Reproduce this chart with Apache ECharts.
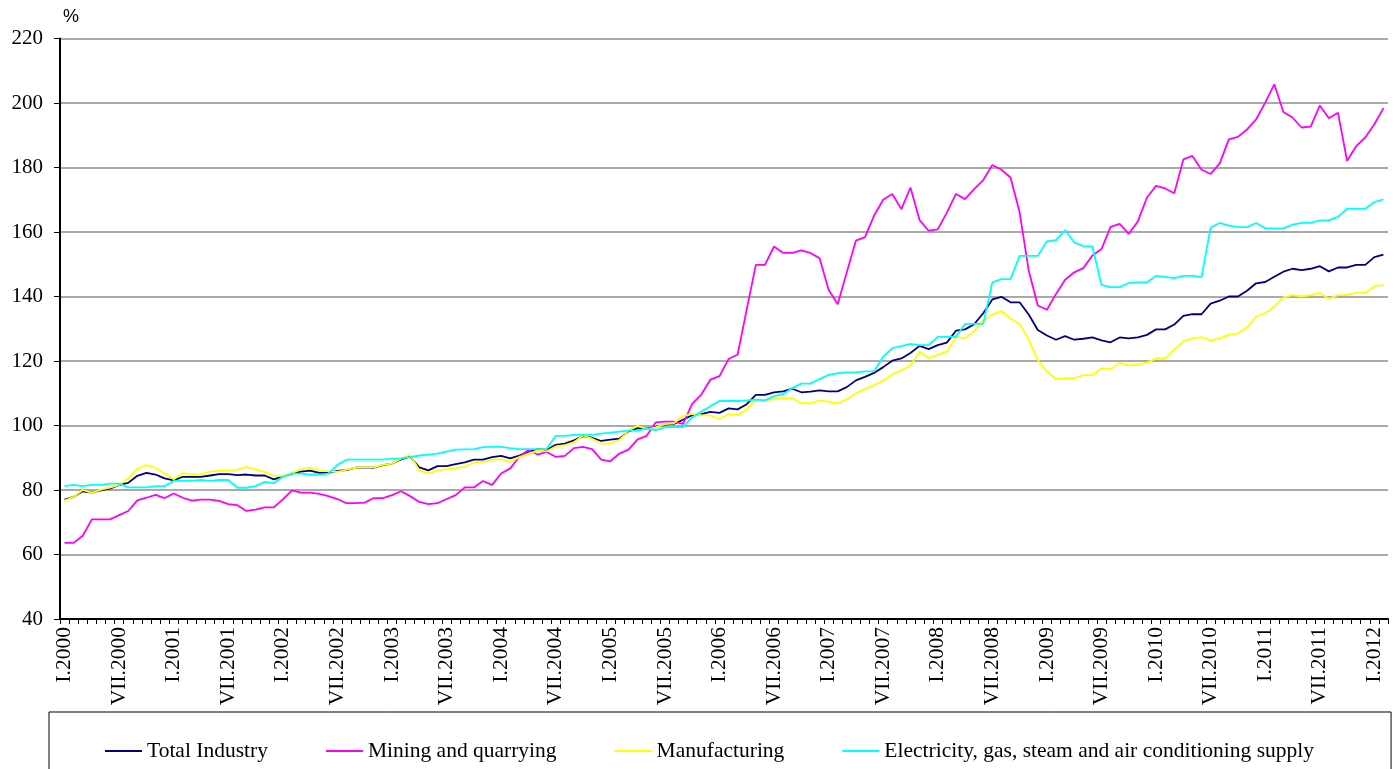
<!DOCTYPE html>
<html>
<head>
<meta charset="utf-8">
<script src="https://cdn.jsdelivr.net/npm/echarts@6/dist/echarts.min.js"></script>
<style>
html,body{margin:0;padding:0;background:#fff;}
#chart{width:1398px;height:769px;}
</style>
</head>
<body>
<div id="chart"></div>
<script>
const monthNames = ['I','II','III','IV','V','VI','VII','VIII','IX','X','XI','XII'];
const years = [2000,2001,2002,2003,2004,2005,2006,2007,2008,2009,2010,2011,2012];
const seriesNames = ['Total Industry','Mining and quarrying','Manufacturing','Electricity, gas, steam and air conditioning supply'];
const yTicks = [40,60,80,100,120,140,160,180,200,220];

// Monthly values, I.2000 .. II.2012 (146 months)
const totalIndustry = [77.0,77.9,79.6,79.2,79.9,80.4,81.6,82.2,84.4,85.3,
84.8,83.6,83.0,84.1,84.1,84.1,84.5,84.9,84.9,84.6,
84.8,84.5,84.5,83.3,84.2,85.1,85.7,86.0,85.3,85.3,
85.9,86.2,86.9,87.0,86.9,87.7,88.2,89.5,90.4,87.0,
86.1,87.4,87.4,88.0,88.6,89.4,89.4,90.2,90.6,89.8,
90.7,91.9,92.7,92.4,94.0,94.4,95.4,96.7,96.2,95.2,
95.6,95.9,98.2,99.2,99.0,99.6,100.3,100.5,101.8,103.2,
103.5,104.2,103.9,105.3,105.0,106.6,109.5,109.5,110.3,110.6,
111.4,110.3,110.5,110.9,110.6,110.6,111.9,114.0,115.1,116.3,
118.1,120.1,120.8,122.5,124.7,123.7,124.9,125.7,129.4,129.8,
131.4,134.8,139.1,139.9,138.2,138.2,134.4,129.6,127.9,126.6,
127.7,126.6,126.9,127.3,126.4,125.8,127.3,127.0,127.3,128.1,
129.8,129.8,131.3,134.0,134.5,134.5,137.8,138.7,140.0,140.0,
141.8,144.1,144.5,146.1,147.7,148.6,148.2,148.6,149.4,147.8,
149.0,149.0,149.8,149.8,152.2,153.0];

const mining = [63.6,63.6,65.8,70.9,70.9,70.9,72.2,73.5,76.8,77.6,
78.5,77.5,78.9,77.6,76.7,77.0,77.0,76.6,75.6,75.3,
73.5,73.9,74.6,74.6,77.1,79.9,79.2,79.2,78.8,78.1,
77.2,75.9,75.9,76.1,77.5,77.5,78.4,79.6,78.1,76.3,
75.6,75.9,77.2,78.4,80.8,80.8,82.8,81.6,85.1,86.7,
90.3,92.4,91.0,91.8,90.3,90.6,93.0,93.4,92.7,89.4,
88.9,91.3,92.5,95.7,96.8,101.0,101.2,101.2,100.5,106.7,
109.6,114.2,115.3,120.6,122.0,136.0,149.8,149.8,155.5,153.5,
153.5,154.3,153.5,151.9,142.1,137.6,147.5,157.3,158.4,165.1,
170.0,171.8,167.1,173.8,163.7,160.4,160.8,166.0,171.8,170.2,
173.3,176.1,180.8,179.3,176.9,166.1,148.0,137.2,135.9,140.8,
145.2,147.5,148.8,152.7,154.7,161.6,162.5,159.4,163.3,170.7,
174.3,173.5,172.0,182.5,183.6,179.3,178.0,181.3,188.7,189.5,
191.8,194.9,200.1,205.8,197.2,195.5,192.4,192.7,199.2,195.3,
197.0,182.1,186.6,189.3,193.4,198.4];

const manufacturing = [76.7,77.9,80.0,79.1,80.1,80.7,81.6,83.6,86.6,87.7,
86.9,85.1,83.3,85.2,84.8,84.9,85.7,86.0,86.0,86.3,
87.2,86.4,85.6,84.4,84.4,85.3,86.4,86.9,86.1,85.8,
85.6,86.3,86.9,87.1,87.0,87.8,88.2,89.7,90.9,86.1,
85.1,86.1,86.5,86.8,87.2,88.6,88.7,89.4,89.6,88.7,
90.2,91.0,92.3,92.0,93.5,93.9,94.8,96.9,95.9,94.4,
94.5,95.5,98.5,99.9,98.9,99.4,100.4,100.7,103.0,103.6,
103.2,103.1,102.1,103.4,103.2,105.0,108.0,107.8,108.2,108.5,
108.5,106.9,106.9,107.7,107.4,106.9,108.1,110.0,111.3,112.5,
113.9,115.9,117.1,118.6,122.9,120.9,121.9,122.9,127.4,127.1,
129.2,132.7,134.4,135.5,133.1,131.5,126.6,120.3,116.7,114.4,
114.7,114.7,115.6,115.6,117.8,117.5,119.5,118.6,118.9,119.5,
120.8,120.8,123.5,126.1,127.0,127.4,126.3,127.0,128.1,128.6,
130.4,133.8,134.8,136.9,139.7,140.4,140.0,140.4,141.1,139.3,
140.4,140.4,141.1,141.1,143.2,143.6];

const electricity = [81.2,81.6,81.2,81.6,81.6,82.0,82.0,80.8,80.8,80.8,
81.2,81.2,82.8,82.8,82.8,83.1,82.8,83.1,83.1,80.7,
80.7,81.2,82.5,82.1,84.1,85.1,85.1,84.8,84.8,85.1,
87.8,89.4,89.4,89.4,89.4,89.4,89.7,89.8,90.2,90.7,
91.0,91.3,91.9,92.5,92.6,92.7,93.3,93.4,93.4,93.0,
92.7,92.7,92.7,92.7,96.8,96.8,97.1,97.1,97.1,97.5,
97.8,98.1,98.4,98.4,99.0,98.6,99.4,99.5,99.5,102.5,
104.3,106.0,107.6,107.6,107.6,107.8,108.0,107.8,109.1,109.7,
111.6,113.0,113.0,114.4,115.7,116.2,116.5,116.5,116.8,116.8,
121.3,124.0,124.6,125.3,124.9,124.9,127.5,127.5,127.5,131.5,
131.5,131.5,144.4,145.4,145.4,152.6,152.6,152.6,157.1,157.5,
160.6,156.8,155.6,155.5,143.6,142.9,142.9,144.2,144.4,144.4,
146.4,146.1,145.7,146.4,146.4,146.1,161.4,162.8,162.0,161.5,
161.5,162.8,161.2,161.1,161.1,162.3,162.8,162.8,163.6,163.6,
164.7,167.2,167.2,167.2,169.3,170.1];

const categories = [];
years.forEach(function (y) {
  monthNames.forEach(function (m, k) {
    if (y < 2012 || k <= 1) categories.push(m + '.' + y);
  });
});

const colors = ['#000080', '#FF00FF', '#FFFF00', '#00FFFF'];
const seriesData = [totalIndustry, mining, manufacturing, electricity];

const chart = echarts.init(document.getElementById('chart'));
chart.setOption({
  animation: false,
  backgroundColor: '#ffffff',
  title: {
    text: '%', left: 58, top: 3,
    textStyle: { fontFamily: 'Liberation Sans', fontSize: 18, fontWeight: 'normal', color: '#000' }
  },
  grid: { left: 60, right: 10, top: 38.5, bottom: 150, containLabel: false },
  legend: {
    data: seriesNames,
    icon: 'rect',
    left: 49, top: 712,
    width: 1340,
    padding: [28, 77, 40, 56],
    itemGap: 58,
    itemWidth: 37,
    itemHeight: 2,
    borderColor: '#000', borderWidth: 1,
    textStyle: { fontFamily: 'Liberation Serif', fontSize: 21.5, color: '#000' }
  },
  xAxis: {
    type: 'category',
    data: categories,
    boundaryGap: true,
    axisLine: { lineStyle: { color: '#000', width: 2 } },
    axisTick: { show: true, interval: 0, length: 5, lineStyle: { color: '#000', width: 1 } },
    axisLabel: {
      interval: 5, rotate: 90, margin: 8,
      fontFamily: 'Liberation Serif', fontSize: 21.5, color: '#000'
    },
    splitLine: { show: false }
  },
  yAxis: {
    type: 'value',
    min: yTicks[0], max: yTicks[yTicks.length - 1], interval: 20,
    axisLine: { show: true, lineStyle: { color: '#000', width: 2 } },
    axisTick: { show: true, length: 6, lineStyle: { color: '#000', width: 1 } },
    axisLabel: { margin: 17, fontFamily: 'Liberation Serif', fontSize: 21, color: '#000' },
    splitLine: { show: true, lineStyle: { color: '#8c8c8c', width: 1.5 } }
  },
  series: seriesNames.map(function (name, idx) {
    return {
      name: name,
      type: 'line',
      data: seriesData[idx],
      symbol: 'none',
      lineStyle: { color: colors[idx], width: 1.8 },
      itemStyle: { color: colors[idx] }
    };
  })
});
</script>
</body>
</html>
